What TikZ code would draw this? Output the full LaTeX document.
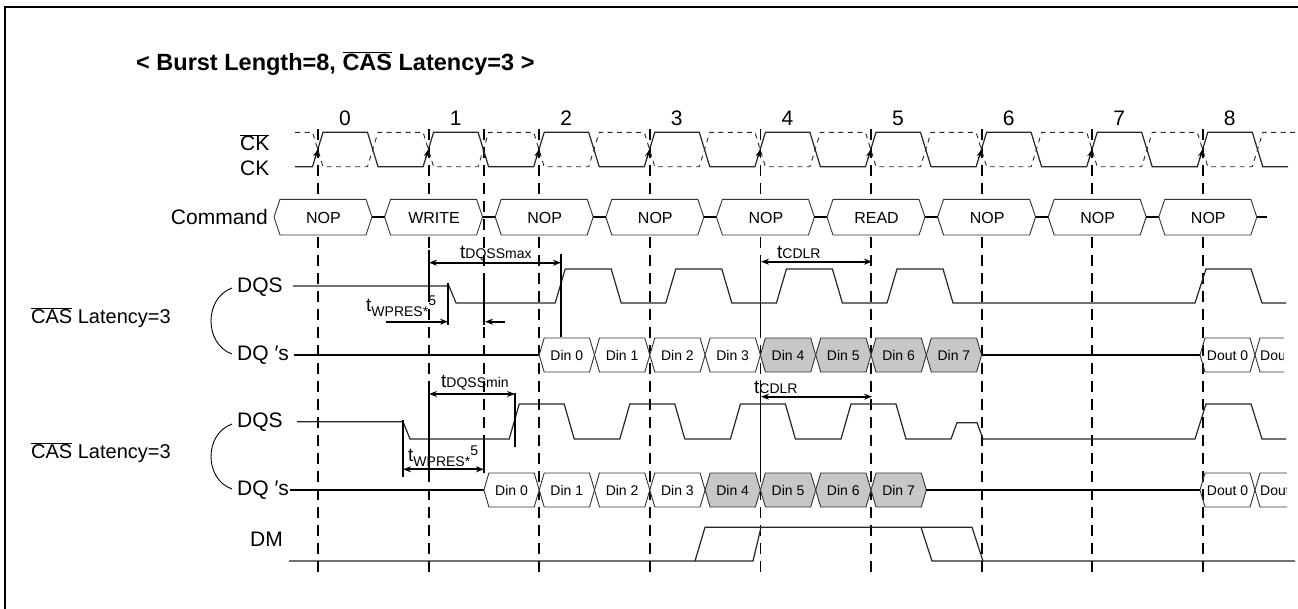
\documentclass[tikz,border=0pt]{standalone}
\usepackage{fontspec}
\setmainfont{Liberation Sans}
\usetikzlibrary{arrows.meta}
\newcommand{\tck}[1]{318+110.6*(#1)}
\newcommand{\ovl}[1]{$\overline{\hbox{#1}}$}
\begin{document}
\begin{tikzpicture}[x=1pt,y=-1pt,
  wave/.style={line width=1.2pt, black!85},
  dline/.style={line width=1.9pt, black},
  ckb/.style={line width=0.9pt, black!85, dash pattern=on 5pt off 4.5pt},
  clkline/.style={line width=1.8pt, dash pattern=on 11pt off 7pt},
  dim/.style={line width=1.8pt},
  dimarr/.style={line width=1.8pt, {Stealth[length=8pt,width=6pt]}-{Stealth[length=8pt,width=6pt]}},
  onearr/.style={line width=1.8pt, -{Stealth[length=8pt,width=6pt]}},
  hex/.style={line width=0.9pt, draw=black!80},
  lbl/.style={font=\fontsize{21}{23}\selectfont, inner sep=0pt},
  caslbl/.style={font=\fontsize{20}{22}\selectfont, inner sep=0pt},
  cmd/.style={font=\fontsize{16}{18}\selectfont, inner sep=0pt},
  dat/.style={font=\fontsize{14}{16}\selectfont, inner sep=0pt},
  shade/.style={fill=black!22},
  plain/.style={fill=white},
]
\useasboundingbox (0,0) rectangle (1298,608);
% frame
\draw[line width=2.5pt] (5,620) -- (5,7) -- (1310,7);
% title
\node[anchor=west, inner sep=0pt, font=\bfseries\fontsize{23.5}{26}\selectfont] (title) at (136,63.5) {< Burst Length=8, \ovl{CAS} Latency=3 >};
% clock numbers
\foreach \k in {0,...,8} \node[lbl] (num\k) at ({\tck{\k}+27},118.3) {\k};
% labels
\node[lbl, anchor=east] (lckb) at (269.5,142.7) {\ovl{CK}};
\node[lbl, anchor=east] (lck) at (269.5,168.3) {CK};
\node[lbl, anchor=east] (lcmd) at (268,217) {Command};
\node[lbl, anchor=west] (ldqs1) at (237,287) {DQS};
\node[lbl, anchor=west] (ldq1) at (237,355) {DQ ′s};
\node[lbl, anchor=west] (ldqs2) at (237,422) {DQS};
\node[lbl, anchor=west] (ldq2) at (237,490) {DQ ′s};
\node[lbl, anchor=west] (ldm) at (250,539) {DM};
\node[caslbl, anchor=west] (lcas1) at (31,318) {\ovl{CAS} Latency=3};
\node[caslbl, anchor=west] (lcas2) at (31,453) {\ovl{CAS} Latency=3};
% braces
\draw[line width=0.9pt] (232,288) .. controls (204,298) and (204,344) .. (232,354);
\draw[line width=0.9pt] (232,424) .. controls (204,434) and (204,479) .. (232,489);
% dashed clock lines
\foreach \k in {0,...,8} \draw[clkline] ({\tck{\k}},129) -- ({\tck{\k}},577);
\draw[clkline] ({\tck{1.5}},129) -- ({\tck{1.5}},473);
% CK
\draw[wave] (295,166.7) \foreach \k in {0,...,8}{ -- ({\tck{\k}-5.5},166.7) -- ({\tck{\k}+5},132.3) -- ({\tck{\k}+49.5},132.3) -- ({\tck{\k}+60},166.7)} -- (1288,166.7);
% CK bar
\draw[ckb] (295,132.3) \foreach \k in {0,...,8}{ -- ({\tck{\k}-5.5},132.3) -- ({\tck{\k}+5},166.7) -- ({\tck{\k}+49.5},166.7) -- ({\tck{\k}+60},132.3)} -- (1298,132.3);
\foreach \k in {0,...,8} \draw[line width=0.8pt, -{Stealth[length=7pt,width=5pt]}] ({\tck{\k}-3},158.3) -- ({\tck{\k}-0.4},150);
% command row
\foreach \k/\t in {0/NOP,1/WRITE,2/NOP,3/NOP,4/NOP,5/READ,6/NOP,7/NOP,8/NOP}{
  \filldraw[hex, fill=white] ({\tck{\k}-44},217) -- ({\tck{\k}-38},199.3) -- ({\tck{\k}+48},199.3) -- ({\tck{\k}+54},217) -- ({\tck{\k}+48},235) -- ({\tck{\k}-38},235) -- cycle;
  \node[cmd] (cmd\k) at ({\tck{\k}+5.5},217.5) {\t};
}
\foreach \k in {0,...,7} \draw[line width=1.5pt] ({\tck{\k}+54},217) -- ({\tck{\k+1}-44},217);
\draw[line width=1.5pt] ({\tck{8}+54},217) -- (1267,217);
% ---------- group 1 ----------
\draw[wave] (293,286) -- (449,286) -- (456,303)
  \foreach \k in {2,...,5}{ -- ({\tck{\k}+16},303) -- ({\tck{\k}+26},269) -- ({\tck{\k}+72},269) -- ({\tck{\k}+82},303)}
  -- (1195,303) -- (1206,269) -- (1251,269) -- (1262,303) -- (1286,303);
\draw[dline] (294,355) -- ({\tck{2}},355);
\foreach \k in {0,...,7}{
  \pgfmathsetmacro\a{\tck{2}+55.3*\k}
  \ifnum\k>3 \def\sty{shade}\else\def\sty{plain}\fi
  \draw[hex,\sty] (\a,355) -- (\a+5,338) -- (\a+50.3,338) -- (\a+55.3,355) -- (\a+50.3,372) -- (\a+5,372) -- cycle;
  \node[dat] (da\k) at (\a+27.6,355.5) {Din \k};
}
\draw[dline] ({\tck{6}},355) -- (1200,355);
\draw[hex] (1200,355) -- (1205,338) -- (1250,338) -- (1255,355) -- (1250,372) -- (1205,372) -- cycle;
\node[dat] (doa0) at (1227.5,355.5) {Dout 0};
\draw[hex] (1284,338) -- (1260,338) -- (1255,355) -- (1260,372) -- (1284,372);
\begin{scope}
\clip (1256,330) rectangle (1283,380);
\node[dat, anchor=west] (doa1) at (1260,355.5) {Dout 1};
\end{scope}
% measurements group 1
\draw[dimarr] (429,262.7) -- (561,262.7);
\node[inner sep=0pt, anchor=base west] (tdmax) at (460,258) {{\fontsize{19}{20}\selectfont t}{\fontsize{14}{16}\selectfont DQSSmax}};
\draw[dim] (429,250) -- (429,300);
\draw[dim] (561,254) -- (561,337);
\draw[onearr] (386,321.7) -- (448,321.7);
\draw[dim] (448,282.7) -- (448,325);
\draw[onearr] (505,321.7) -- (485,321.7);
\draw[dim] ({\tck{1.5}},275) -- ({\tck{1.5}},325);
\node[inner sep=0pt, anchor=base west] (twp1) at (366,311) {{\fontsize{19}{20}\selectfont t}\raisebox{-5pt}{\fontsize{14}{16}\selectfont WPRES*}\raisebox{6pt}{\fontsize{14}{16}\selectfont 5}};
\draw[dimarr] (761,261.7) -- (872,261.7);
\node[inner sep=0pt, anchor=base west] (tcd1) at (777,258) {{\fontsize{19}{20}\selectfont t}{\fontsize{14}{16}\selectfont CDLR}};
\draw[dim] ({\tck{4}},255) -- ({\tck{4}},338);
% ---------- group 2 ----------
\draw[wave] (297,421.7) -- (403,421.7) -- (410,439)
  \foreach \k in {2,...,5}{ -- ({\tck{\k}-30},439) -- ({\tck{\k}-20},404) -- ({\tck{\k}+25},404) -- ({\tck{\k}+35},439)}
  -- (951,439) -- (957,422.7) -- (977,422.7) -- (983,439) -- (1195,439) -- (1206,404) -- (1251,404) -- (1262,439) -- (1286,439);
\draw[dline] (290,490) -- ({\tck{1.5}},490);
\foreach \k in {0,...,7}{
  \pgfmathsetmacro\a{\tck{1.5}+55.3*\k}
  \ifnum\k>3 \def\sty{shade}\else\def\sty{plain}\fi
  \draw[hex,\sty] (\a,490) -- (\a+5,473) -- (\a+50.3,473) -- (\a+55.3,490) -- (\a+50.3,507) -- (\a+5,507) -- cycle;
  \node[dat] (db\k) at (\a+27.6,490.5) {Din \k};
}
\draw[dline] ({\tck{5.5}},490) -- (1200,490);
\draw[hex] (1200,490) -- (1205,473) -- (1250,473) -- (1255,490) -- (1250,507) -- (1205,507) -- cycle;
\node[dat] (dob0) at (1227.5,490.5) {Dout 0};
\draw[hex] (1287,473) -- (1260,473) -- (1255,490) -- (1260,507) -- (1287,507);
\begin{scope}
\clip (1256,465) rectangle (1286,515);
\node[dat, anchor=west] (dob1) at (1260,490.5) {Dout 1};
\end{scope}
% measurements group 2
\draw[dimarr] (429,394) -- (515,394);
\node[inner sep=0pt, anchor=base west] (tdmin) at (441,387) {{\fontsize{19}{20}\selectfont t}{\fontsize{14}{16}\selectfont DQSSmin}};
\draw[dim] (429,388) -- (429,478);
\draw[dim] (515,393) -- (515,447);
\draw[dim] (403,420) -- (403,477);
\draw[dim] ({\tck{1.5}},440) -- ({\tck{1.5}},473);
\draw[dimarr] (403,469.3) -- ({\tck{1.5}},469.3);
\node[inner sep=0pt, anchor=base west] (twp2) at (408,461) {{\fontsize{19}{20}\selectfont t}\raisebox{-5pt}{\fontsize{14}{16}\selectfont WPRES*}\raisebox{6pt}{\fontsize{14}{16}\selectfont 5}};
\draw[dimarr] (761,396.7) -- (872,396.7);
\node[inner sep=0pt, anchor=base west] (tcd2) at (754,393) {{\fontsize{19}{20}\selectfont t}{\fontsize{14}{16}\selectfont CDLR}};
\draw[dim] ({\tck{4}},380) -- ({\tck{4}},473);
% ---------- DM ----------
\draw[wave] (289,561) -- (695,561) -- (705,527.3) -- (972,527.3) -- (983,561) -- (1295,561);
\draw[wave] (695,561) -- (753,561) -- (761,527.3);
\draw[wave] (921,527.3) -- (932,561) -- (983,561);
\end{tikzpicture}
\end{document}
